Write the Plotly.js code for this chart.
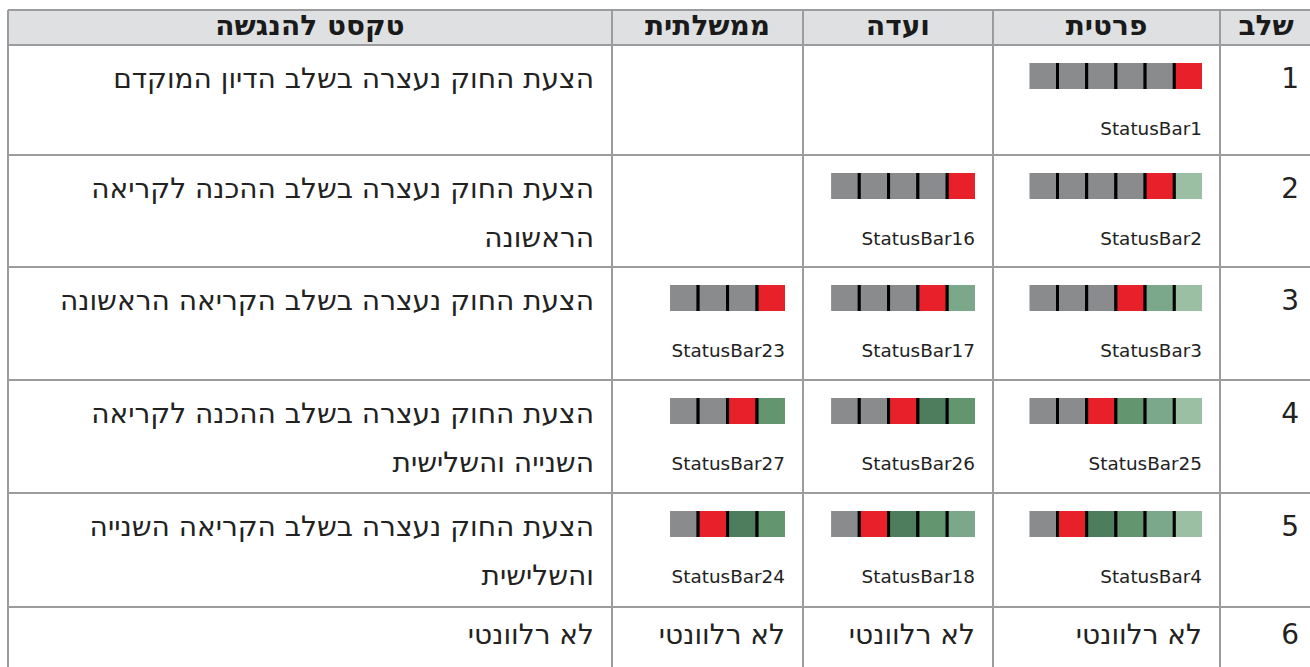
<!DOCTYPE html>
<html>
<head>
<meta charset="utf-8">
<script src="https://cdn.plot.ly/plotly-3.0.1.min.js"></script>
<style>html,body{margin:0;padding:0;background:#fff;}#chart{width:1310px;height:667px;}</style>
</head>
<body>
<div id="chart"></div>
<script>
// ---------------- DATA ----------------
const columnTitles = ['טקסט להנגשה', 'ממשלתית', 'ועדה', 'פרטית', 'שלב'];
const stages = ['1', '2', '3', '4', '5', '6'];
const accessText = [
  ['הצעת החוק נעצרה בשלב הדיון המוקדם'],
  ['הצעת החוק נעצרה בשלב ההכנה לקריאה', 'הראשונה'],
  ['הצעת החוק נעצרה בשלב הקריאה הראשונה'],
  ['הצעת החוק נעצרה בשלב ההכנה לקריאה', 'השנייה והשלישית'],
  ['הצעת החוק נעצרה בשלב הקריאה השנייה', 'והשלישית'],
  ['לא רלוונטי']
];
const notRelevant = 'לא רלוונטי';
// segment status codes, left to right: G gray, R red, D dark green, M green, L light green, P pale green
const governmentBars = [null, null, 'GGGR', 'GGRM', 'GRDM', null];
const committeeBars  = [null, 'GGGGR', 'GGGRL', 'GGRDM', 'GRDML', null];
const privateBars    = ['GGGGGR', 'GGGGRP', 'GGGRLP', 'GGRMLP', 'GRDMLP', null];
const governmentLabels = [null, null, 'StatusBar23', 'StatusBar27', 'StatusBar24', null];
const committeeLabels  = [null, 'StatusBar16', 'StatusBar17', 'StatusBar26', 'StatusBar18', null];
const privateLabels    = ['StatusBar1', 'StatusBar2', 'StatusBar3', 'StatusBar25', 'StatusBar4', null];

// ---------------- STYLE / LAYOUT CONSTANTS ----------------
const W = 1310, H = 667;
const COL_EDGES = [8, 612, 803, 993, 1220, 1312];
const ROW_EDGES = [10, 45, 155, 267, 380, 493, 607, 720];
const GRID = '#9c9c9e', HEADER_FILL = '#dfe0e2';
const STATUS_COLORS = {G: '#8a8b8d', R: '#e8202a', D: '#4e7d5e', M: '#63956f', L: '#7ba88a', P: '#9abfa3'};
const SEG = 28.7, BAR_H = 26, BAR_TOP = 18, PAD_R = 18, STAGE_PAD_R = 13;
const TEXT_DY = 36, LINE2_DY = 85, LAST_DY = 30, LABEL_DY = 85;
const HEB_FONT = {family: 'DejaVu Sans, Liberation Sans, sans-serif', size: 28, color: '#222'};
const HEAD_FONT = {family: 'DejaVu Sans, Liberation Sans, sans-serif', size: 28, color: '#1a1a1a', weight: 'bold'};
const LABEL_FONT = {family: 'DejaVu Sans, sans-serif', size: 18.4, color: '#222'};

const rowTop = r => ROW_EDGES[r + 1];
const colRight = c => COL_EDGES[c + 1];
const lastRow = stages.length - 1;
const rowDy = r => (r === lastRow ? LAST_DY : TEXT_DY);

const traces = [];
const layout = {
  width: W, height: H, margin: {l: 0, r: 0, t: 0, b: 0},
  paper_bgcolor: '#fff', plot_bgcolor: 'rgba(0,0,0,0)', showlegend: false,
  xaxis: {domain: [0, 1], range: [0, W], visible: false, fixedrange: true},
  yaxis: {domain: [0, 1], range: [H, 0], visible: false, fixedrange: true},
  shapes: []
};

// grid
layout.shapes.push({type: 'rect', xref: 'x', yref: 'y', x0: COL_EDGES[0], x1: COL_EDGES[COL_EDGES.length - 1],
  y0: ROW_EDGES[0], y1: ROW_EDGES[1], fillcolor: HEADER_FILL, line: {width: 0}, layer: 'below'});
ROW_EDGES.forEach(y => layout.shapes.push({type: 'line', xref: 'x', yref: 'y', x0: COL_EDGES[0],
  x1: COL_EDGES[COL_EDGES.length - 1], y0: y, y1: y, line: {color: GRID, width: 2}}));
COL_EDGES.forEach(x => layout.shapes.push({type: 'line', xref: 'x', yref: 'y', x0: x, x1: x,
  y0: ROW_EDGES[0], y1: ROW_EDGES[ROW_EDGES.length - 1], line: {color: GRID, width: 2}}));

// header
traces.push({type: 'scatter', mode: 'text', xaxis: 'x', yaxis: 'y', hoverinfo: 'skip',
  x: columnTitles.map((t, c) => (COL_EDGES[c] + COL_EDGES[c + 1]) / 2),
  y: columnTitles.map(() => (ROW_EDGES[0] + ROW_EDGES[1]) / 2),
  text: columnTitles, textposition: 'middle center', textfont: HEAD_FONT, cliponaxis: false});

// body text (right aligned)
const tx = [], ty = [], tt = [];
function addText(str, x, y) { tx.push(x); ty.push(y); tt.push(str); }
accessText.forEach((lines, r) => lines.forEach((ln, i) =>
  addText(ln, colRight(0) - PAD_R, rowTop(r) + (i === 0 ? rowDy(r) : LINE2_DY))));
stages.forEach((s, r) => addText(s, colRight(4) - STAGE_PAD_R, rowTop(r) + rowDy(r)));
[1, 2, 3].forEach(c => addText(notRelevant, colRight(c) - PAD_R, rowTop(lastRow) + LAST_DY));
traces.push({type: 'scatter', mode: 'text', xaxis: 'x', yaxis: 'y', hoverinfo: 'skip',
  x: tx, y: ty, text: tt, textposition: 'middle left', textfont: HEB_FONT, cliponaxis: false});

// status bars + labels
const lx = [], ly = [], lt = [];
let axN = 2;
[[1, governmentBars, governmentLabels], [2, committeeBars, committeeLabels], [3, privateBars, privateLabels]].forEach(([c, bars, labels]) => {
  bars.forEach((code, r) => {
    if (!code) return;
    const segs = code.split('');
    const n = segs.length;
    const right = colRight(c) - PAD_R, left = right - n * SEG;
    const top = rowTop(r) + BAR_TOP, bottom = top + BAR_H;
    const xa = 'xaxis' + axN, ya = 'yaxis' + axN;
    const dx = 1.5 / SEG, dy = 1.6 / BAR_H;
    layout[xa] = {domain: [left / W, right / W], range: [-0.5 + dx, n - 0.5 - dx], visible: false, fixedrange: true, anchor: 'y' + axN};
    layout[ya] = {domain: [1 - bottom / H, 1 - top / H], range: [dy, 1 - dy], visible: false, fixedrange: true, anchor: 'x' + axN};
    traces.push({type: 'bar', xaxis: 'x' + axN, yaxis: 'y' + axN, hoverinfo: 'skip',
      x: segs.map((s, i) => i), y: segs.map(() => 1), width: 1,
      marker: {color: segs.map(s => STATUS_COLORS[s]), line: {color: '#000', width: 3}}});
    axN++;
    lx.push(right); ly.push(rowTop(r) + LABEL_DY); lt.push(labels[r]);
  });
});
traces.push({type: 'scatter', mode: 'text', xaxis: 'x', yaxis: 'y', hoverinfo: 'skip',
  x: lx, y: ly, text: lt, textposition: 'middle left', textfont: LABEL_FONT, cliponaxis: false});

layout.bargap = 0;
Plotly.newPlot('chart', traces, layout, {staticPlot: true, displayModeBar: false});
</script>
</body>
</html>
